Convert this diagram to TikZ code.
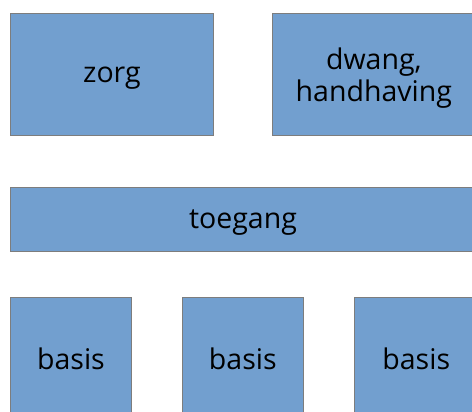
\documentclass[tikz,border=0pt]{standalone}
\usepackage{fontspec}
\setmainfont{Open Sans}
\usepackage{xcolor}
\usepackage{tikz}
\usetikzlibrary{positioning}
\definecolor{boxblue}{RGB}{114,159,207}
\definecolor{boxedge}{RGB}{125,125,125}

\begin{document}
\begin{tikzpicture}[auto, node distance=51pt and 58pt,
    box/.style={draw=boxedge, line width=0.9pt, fill=boxblue, align=center,
        inner sep=0pt, text depth=0pt, font=\fontsize{28.5}{32}\selectfont}]
    \useasboundingbox (0,0) rectangle (472pt,-412pt);
    \clip (0,0) rectangle (472pt,-412pt);
    \node [box, anchor=north west, minimum width=203pt, minimum height=122pt] (zorg) at (10pt,-13pt) {zorg};
    \node [box, right=of zorg, minimum width=203pt, minimum height=122pt] (dwang) {dwang,\\handhaving};
    \node [box, below=of zorg.south west, anchor=north west, minimum width=465pt, minimum height=64pt] (toegang) {toegang};
    \node [box, below=45pt of toegang.south west, anchor=north west, minimum width=121pt, minimum height=122pt] (basisA) {basis};
    \node [box, right=50pt of basisA, minimum width=121pt, minimum height=122pt] (basisB) {basis};
    \node [box, right=50pt of basisB, minimum width=124pt, minimum height=122pt] (basisC) {basis};
\end{tikzpicture}
\end{document}
